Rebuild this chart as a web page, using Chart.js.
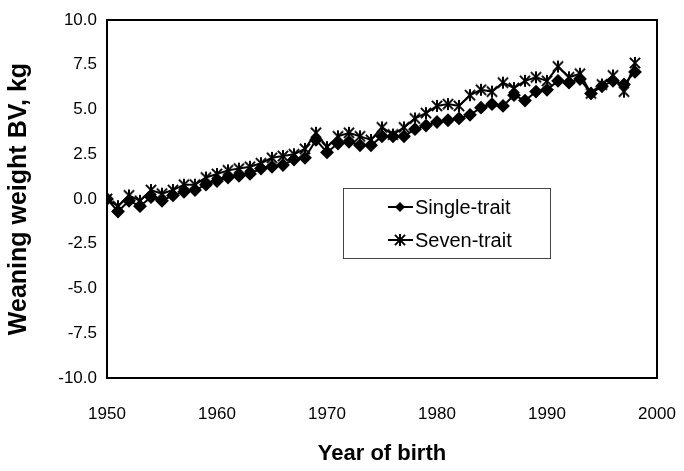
<!DOCTYPE html>
<html>
<head>
<meta charset="utf-8">
<script src="https://cdn.jsdelivr.net/npm/chart.js@4.4.1/dist/chart.umd.min.js"></script>
<style>
  html, body { margin: 0; padding: 0; background: #fff; }
  #wrap { width: 684px; height: 471px; }
</style>
</head>
<body>
<div id="wrap"><canvas id="myChart" width="684" height="471"></canvas></div>
<script>
const years = [];
for (let y = 1950; y <= 1998; y++) years.push(y);

const singleTrait = [
  0.0, -0.7, -0.1, -0.4, 0.1, -0.1, 0.2, 0.4, 0.5, 0.8,
  1.0, 1.2, 1.3, 1.4, 1.7, 1.8, 1.9, 2.2, 2.3, 3.3,
  2.6, 3.1, 3.2, 3.0, 3.0, 3.5, 3.5, 3.5, 3.9, 4.1,
  4.3, 4.4, 4.5, 4.7, 5.1, 5.3, 5.2, 5.8, 5.5, 6.0,
  6.1, 6.6, 6.5, 6.7, 5.9, 6.3, 6.6, 6.4, 7.1
];
const sevenTrait = [
  0.0, -0.4, 0.2, -0.1, 0.5, 0.3, 0.5, 0.8, 0.8, 1.2,
  1.4, 1.6, 1.7, 1.8, 2.0, 2.3, 2.4, 2.5, 2.8, 3.7,
  2.9, 3.5, 3.7, 3.5, 3.3, 4.0, 3.6, 4.0, 4.5, 4.8,
  5.2, 5.3, 5.2, 5.8, 6.1, 6.0, 6.5, 6.2, 6.6, 6.8,
  6.6, 7.4, 6.8, 7.0, 5.9, 6.4, 6.9, 6.0, 7.6
];
const xTicks = [1950, 1960, 1970, 1980, 1990, 2000];
const seriesLabels = ['Single-trait', 'Seven-trait'];

const FONT = "'Liberation Sans', Arial, sans-serif";

// asterisk marker: X plus vertical bar
function makeStar(r) {
  const c = document.createElement('canvas');
  c.width = c.height = r * 2 + 2;
  const g = c.getContext('2d');
  const m = r + 1;
  g.strokeStyle = '#000';
  g.lineWidth = 2;
  g.beginPath();
  g.moveTo(m, m - r); g.lineTo(m, m + r);
  g.moveTo(m - r * 0.85, m - r * 0.85); g.lineTo(m + r * 0.85, m + r * 0.85);
  g.moveTo(m + r * 0.85, m - r * 0.85); g.lineTo(m - r * 0.85, m + r * 0.85);
  g.stroke();
  return c;
}
const starImg = makeStar(6);

const pts = arr => arr.map((v, i) => ({ x: years[i], y: v }));

// box around plot + in-plot legend
const framePlugin = {
  id: 'frame',
  afterDraw(chart) {
    const { ctx, chartArea: a } = chart;
    ctx.save();
    ctx.strokeStyle = '#000';
    ctx.lineWidth = 2;
    ctx.strokeRect(a.left, a.top, a.right - a.left, a.bottom - a.top);

    // legend
    const bx = 343, by = 188, bw = 207, bh = 70;
    ctx.lineWidth = 1;
    ctx.strokeStyle = '#444';
    ctx.strokeRect(bx + 0.5, by + 0.5, bw, bh);
    ctx.font = '20px ' + FONT;
    ctx.textBaseline = 'middle';
    ctx.fillStyle = '#000';
    const rows = [by + 19, by + 52];
    chart.data.datasets.forEach((ds, i) => {
      const y = rows[i];
      ctx.strokeStyle = '#000';
      ctx.lineWidth = 2;
      ctx.beginPath();
      ctx.moveTo(388, y); ctx.lineTo(413, y);
      ctx.stroke();
      if (i === 0) {
        ctx.beginPath();
        ctx.moveTo(400, y - 5); ctx.lineTo(405, y); ctx.lineTo(400, y + 5); ctx.lineTo(395, y);
        ctx.closePath(); ctx.fill();
      } else {
        ctx.drawImage(starImg, 400 - starImg.width / 2, y - starImg.height / 2);
      }
      ctx.fillText(ds.label, 415, y + 1);
    });
    ctx.restore();
  }
};

new Chart(document.getElementById('myChart').getContext('2d'), {
  type: 'line',
  data: {
    datasets: [
      {
        label: seriesLabels[0],
        data: pts(singleTrait),
        borderColor: '#000',
        backgroundColor: '#000',
        borderWidth: 2,
        pointStyle: 'rectRot',
        pointRadius: 5.5,
        tension: 0
      },
      {
        label: seriesLabels[1],
        data: pts(sevenTrait),
        borderColor: '#000',
        backgroundColor: '#000',
        borderWidth: 2,
        pointStyle: starImg,
        pointRadius: 6,
        tension: 0
      }
    ]
  },
  options: {
    responsive: false,
    animation: false,
    layout: { padding: { left: 0, top: 20, right: 27, bottom: 0 } },
    plugins: { legend: { display: false }, tooltip: { enabled: false } },
    scales: {
      x: {
        type: 'linear',
        min: 1950,
        max: 2000,
        afterBuildTicks: s => { s.ticks = xTicks.map(v => ({ value: v })); },
        afterFit: s => { s.height = 93; s.paddingLeft = 0; s.paddingRight = 0; },
        grid: { display: false, drawTicks: false },
        border: { display: false },
        ticks: { color: '#000', font: { family: FONT, size: 17 }, padding: 26, maxRotation: 0, callback: v => String(v) },
        title: { display: true, text: 'Year of birth', color: '#000', font: { family: FONT, size: 22, weight: 'bold' }, padding: { top: 10 } }
      },
      y: {
        min: -10,
        max: 10,
        afterFit: s => { s.width = 107; s.paddingTop = 0; s.paddingBottom = 0; },
        grid: { display: false, drawOnChartArea: false, drawTicks: true, tickLength: 6, color: '#000' },
        border: { display: false },
        ticks: { stepSize: 2.5, color: '#000', font: { family: FONT, size: 17 }, padding: 4, callback: v => v.toFixed(1) },
        title: { display: true, text: 'Weaning weight BV, kg', color: '#000', font: { family: FONT, size: 25, weight: 'bold' }, padding: { bottom: 2 } }
      }
    }
  },
  plugins: [framePlugin]
});
</script>
</body>
</html>
